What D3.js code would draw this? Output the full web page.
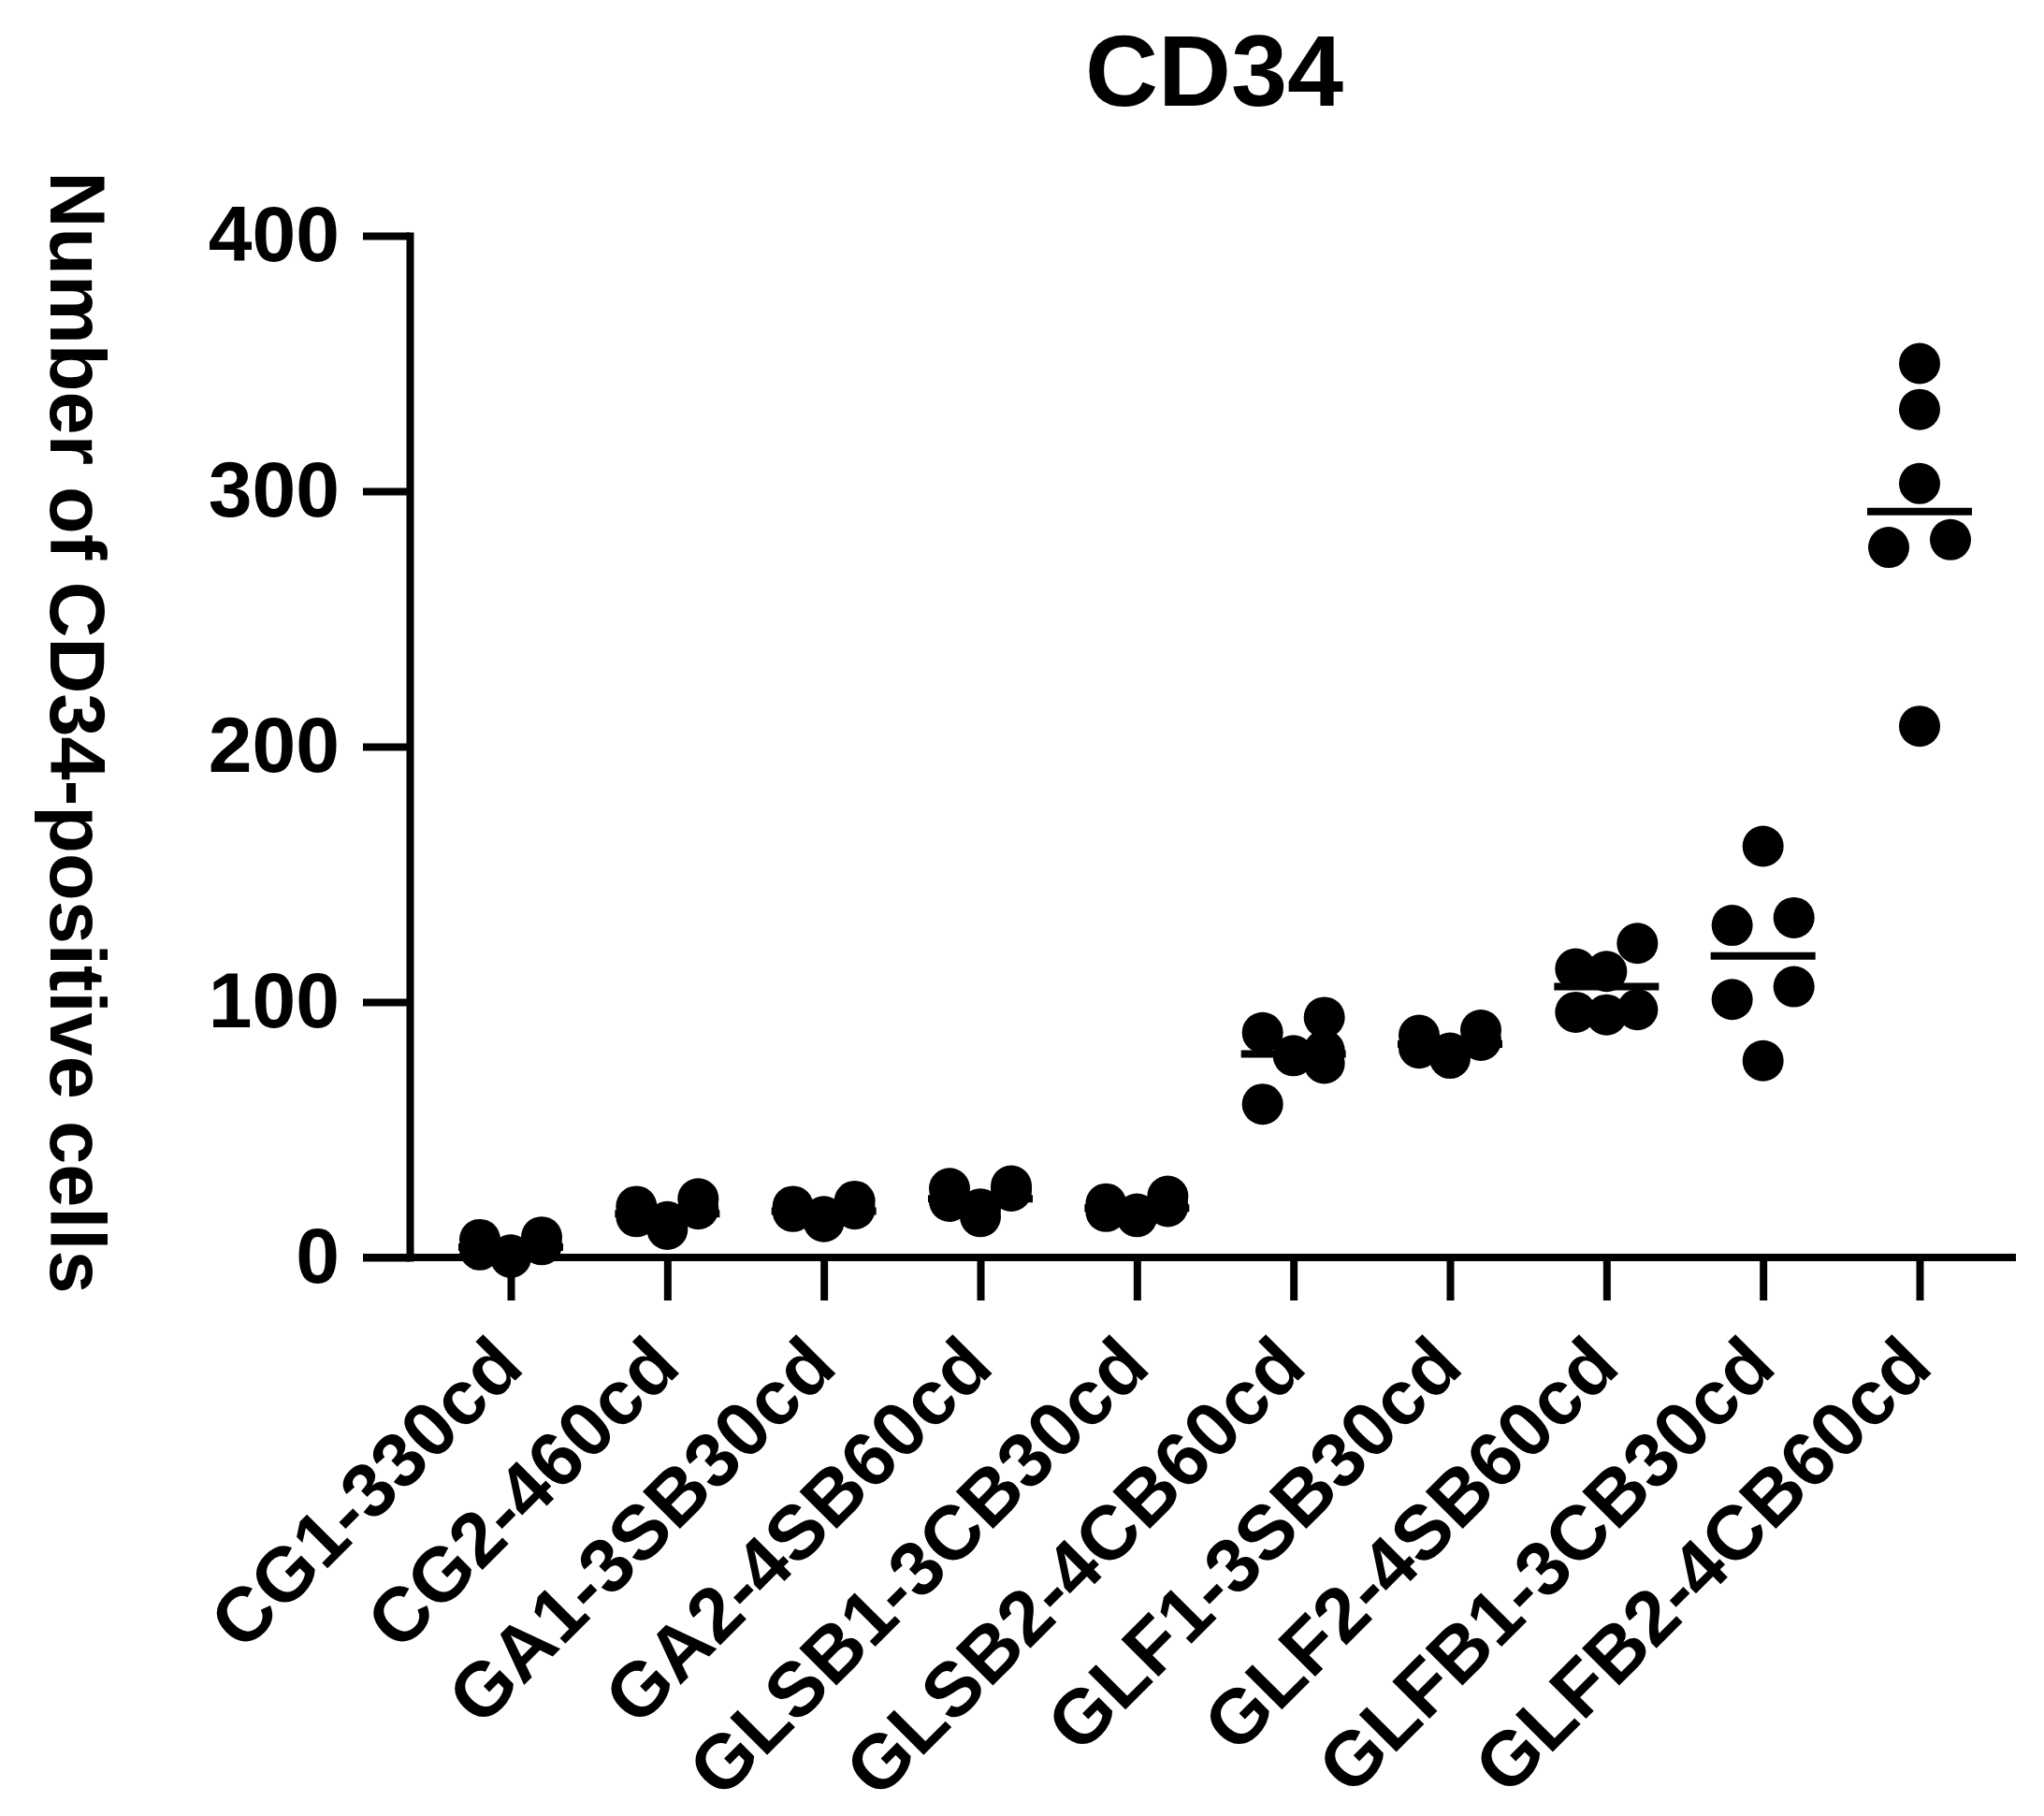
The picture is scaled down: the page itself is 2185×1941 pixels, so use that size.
<!DOCTYPE html>
<html>
  <head>
    <style>
      body { margin: 0; background: #fff; }
      text { font-family: "Liberation Sans", Arial, sans-serif; font-weight: bold; fill: #000; }
    </style>
    <script src="https://d3js.org/d3.v7.min.js"></script>
  </head>
  <body>
    <svg class="chart"></svg>

    <script>
      const categories = [
        'CG1-330cd', 'CG2-460cd', 'GA1-3SB30cd', 'GA2-4SB60cd', 'GLSB1-3CB30cd',
        'GLSB2-4CB60cd', 'GLF1-3SB30cd', 'GLF2-4SB60cd', 'GLFB1-3CB30cd', 'GLFB2-4CB60cd'
      ];
      // number of CD34-positive cells, one array per group
      const counts = [
        [8, 7, 5, 3, 1, 0],
        [23, 20, 19, 16, 14, 11],
        [22, 20, 19, 18, 16, 14],
        [28, 27, 26, 22, 19, 16],
        [24, 21, 20, 18, 17, 16],
        [94, 88, 81, 79, 76, 60],
        [89, 87, 85, 82, 80, 78],
        [123, 113, 112, 97, 96, 95],
        [161, 133, 130, 106, 101, 77],
        [350, 332, 303, 281, 278, 208]
      ];
      const yTicks = [0, 100, 200, 300, 400];
      const title = 'CD34';
      const yLabel = 'Number of CD34-positive cells';

      const width = 2185;
      const height = 1941;
      const yAxisX = 438;
      const tickLen = 50;
      const xAxisEnd = 2155;
      const plotTop = 252;
      const plotBottom = 1344;
      const r = 22;
      const dodge = 33;
      const meanHalf = 56;
      const stroke = 8;

      const svg = d3.select('svg')
        .attr('width', width)
        .attr('height', height);

      svg.append('rect').attr('width', width).attr('height', height).attr('fill', '#fff');

      const x = d3.scalePoint().domain(categories).range([546, 2052]);
      const y = d3.scaleLinear().domain([0, 400]).range([plotBottom, plotTop]);

      // y axis
      const yAxis = svg.append('g')
        .attr('transform', `translate(${yAxisX},0)`)
        .call(d3.axisLeft(y).tickValues(yTicks).tickSize(tickLen).tickSizeOuter(0).tickPadding(25));
      yAxis.selectAll('path, line').attr('stroke', '#000').attr('stroke-width', stroke);
      yAxis.select('.domain').attr('stroke-linecap', 'square');
      yAxis.selectAll('text')
        .attr('font-size', 84)
        .attr('font-family', '"Liberation Sans", Arial, sans-serif')
        .attr('font-weight', 'bold');

      // x axis
      svg.append('line')
        .attr('x1', yAxisX - tickLen).attr('x2', xAxisEnd)
        .attr('y1', y(0)).attr('y2', y(0))
        .attr('stroke', '#000').attr('stroke-width', stroke);

      const xAxis = svg.append('g')
        .attr('transform', `translate(0,${y(0)})`)
        .call(d3.axisBottom(x).tickSize(46).tickSizeOuter(0));
      xAxis.select('.domain').remove();
      xAxis.selectAll('line').attr('stroke', '#000').attr('stroke-width', stroke);
      xAxis.selectAll('text')
        .attr('x', 0).attr('y', 0).attr('dy', 0)
        .attr('text-anchor', 'end')
        .attr('transform', 'translate(16,120) rotate(-45)')
        .attr('font-size', 82)
        .attr('font-family', '"Liberation Sans", Arial, sans-serif')
        .attr('font-weight', 'bold');

      // spread close values sideways, like a column scatter plot
      function spread(values) {
        const sorted = values.slice().sort((a, b) => b - a);
        const clusters = [];
        sorted.forEach(v => {
          const last = clusters[clusters.length - 1];
          if (last && Math.abs(y(v) - y(last[0])) < 2 * r) last.push(v);
          else clusters.push([v]);
        });
        const out = [];
        clusters.forEach(c => {
          if (c.length === 1) { out.push({ v: c[0], k: 0 }); return; }
          const sides = c.length === 2 ? 2 : c.length - Math.floor(c.length / 3);
          c.forEach((v, i) => out.push({ v, k: i < sides ? (i % 2 === 0 ? 1 : -1) : 0 }));
        });
        return out;
      }

      const groups = svg.append('g')
        .selectAll('g')
        .data(categories.map((c, i) => ({ c, values: counts[i] })))
        .join('g');

      groups.selectAll('circle')
        .data(d => spread(d.values).map(p => ({ ...p, c: d.c })))
        .join('circle')
        .attr('cx', d => x(d.c) + d.k * dodge)
        .attr('cy', d => y(d.v))
        .attr('r', r)
        .attr('fill', '#000');

      groups.append('line')
        .attr('x1', d => x(d.c) - meanHalf)
        .attr('x2', d => x(d.c) + meanHalf)
        .attr('y1', d => y(d3.mean(d.values)))
        .attr('y2', d => y(d3.mean(d.values)))
        .attr('stroke', '#000')
        .attr('stroke-width', stroke);

      svg.append('text')
        .attr('x', 1298).attr('y', 113)
        .attr('text-anchor', 'middle')
        .attr('font-size', 108)
        .text(title);

      svg.append('text')
        .attr('transform', 'translate(54,783) rotate(90)')
        .attr('text-anchor', 'middle')
        .attr('font-size', 83)
        .text(yLabel);
    </script>
  </body>
</html>
